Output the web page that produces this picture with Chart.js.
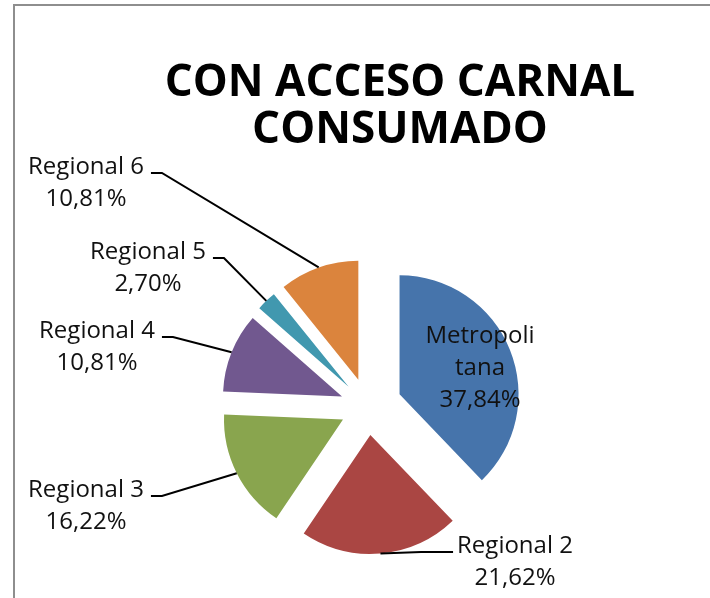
<!DOCTYPE html>
<html>
<head>
<meta charset="utf-8">
<script src="https://cdn.jsdelivr.net/npm/chart.js@4/dist/chart.umd.min.js"></script>
<style>
  html, body { margin: 0; padding: 0; background: #fff; overflow: hidden; }
  #frame {
    position: absolute; left: 13px; top: 4px; width: 900px; height: 800px;
    border-left: 2px solid #8e8e8e; border-top: 2px solid #8e8e8e;
  }
  #chart { position: absolute; left: 0; top: 0; }
</style>
</head>
<body>
<div id="frame"></div>
<canvas id="chart" width="710" height="598"></canvas>
<script>
// data (counts giving the shown percentages)
const categories = ["Metropolitana", "Regional 2", "Regional 3", "Regional 4", "Regional 5", "Regional 6"];
const values = [14, 8, 6, 4, 1, 4];
const colors = ["#4674ab", "#aa4643", "#89a54e", "#71588f", "#4198af", "#db843d"];

// label text lines (name as it wraps in the picture)
const labelNames = [["Metropoli", "tana"], ["Regional 2"], ["Regional 3"], ["Regional 4"], ["Regional 5"], ["Regional 6"]];

const FONT = "'Open Sans', 'DejaVu Sans', sans-serif";

// move the pie so it sits where it does in the picture
const pieCenter = {
  id: "pieCenter",
  afterLayout(chart, args, opts) {
    const a = chart.chartArea;
    a.left = opts.x - 250; a.right = opts.x + 250;
    a.top = opts.y - 200; a.bottom = opts.y + 200;
    a.width = 500; a.height = 400;
  }
};

// pull each slice out along its middle angle
const explode = {
  id: "explode",
  afterUpdate(chart, args, opts) {
    chart.getDatasetMeta(0).data.forEach(function (arc, i) {
      if (arc._exploded) return;
      const draw = arc.draw;
      arc.draw = function (ctx) {
        const d = opts.distance[i] || 0;
        const mid = (this.startAngle + this.endAngle) / 2;
        ctx.save();
        ctx.translate(Math.cos(mid) * d, Math.sin(mid) * d);
        draw.call(this, ctx);
        ctx.restore();
      };
      arc._exploded = true;
    });
  }
};

// data labels with leader lines
const sliceLabels = {
  id: "sliceLabels",
  afterDatasetsDraw(chart, args, opts) {
    const ctx = chart.ctx;
    const meta = chart.getDatasetMeta(0);
    const total = values.reduce((s, v) => s + v, 0);
    ctx.save();
    ctx.font = opts.size + "px " + FONT;
    ctx.fillStyle = "#111";
    ctx.strokeStyle = "#000";
    ctx.lineWidth = 2;
    ctx.textAlign = "center";
    ctx.textBaseline = "middle";
    meta.data.forEach(function (arc, i) {
      const box = opts.boxes[i];
      const pct = (values[i] / total * 100).toFixed(2).replace(".", ",") + "%";
      const lines = labelNames[i].concat([pct]);
      lines.forEach(function (t, k) {
        ctx.fillText(t, box.x, box.y + k * opts.lineHeight);
      });
      if (!box.side) return;
      const d = opts.distance[i] || 0;
      const mid = (arc.startAngle + arc.endAngle) / 2;
      const ex = arc.x + Math.cos(mid) * (d + arc.outerRadius);
      const ey = arc.y + Math.sin(mid) * (d + arc.outerRadius);
      const w = ctx.measureText(lines[0]).width;
      let sx, kx;
      if (box.side === "left") {
        sx = box.x + w / 2 + 7; kx = sx + 11;
      } else {
        sx = box.x - w / 2 - 4; kx = sx - 32;
      }
      const sy = box.y + 6;
      ctx.beginPath();
      ctx.moveTo(sx, sy);
      ctx.lineTo(kx, sy);
      ctx.lineTo(ex, ey);
      ctx.stroke();
    });
    ctx.restore();
  }
};

const explodeDistance = [34, 28, 28, 28, 28, 29];

new Chart(document.getElementById("chart"), {
  type: "pie",
  data: {
    labels: categories,
    datasets: [{ data: values, backgroundColor: colors, borderWidth: 0 }]
  },
  options: {
    responsive: false,
    animation: false,
    radius: 119,
    layout: { padding: { left: 90 } },
    plugins: {
      legend: { display: false },
      tooltip: { enabled: false },
      title: {
        display: true,
        text: ["CON ACCESO CARNAL", "CONSUMADO"],
        color: "#000",
        font: { family: FONT, size: 44, weight: "bold", lineHeight: 1.07 },
        padding: { top: 60, bottom: 0 }
      },
      pieCenter: { x: 368, y: 407 },
      explode: { distance: explodeDistance },
      sliceLabels: {
        size: 24,
        lineHeight: 32,
        distance: explodeDistance,
        boxes: [
          { x: 480, y: 336 },
          { x: 515, y: 546, side: "right" },
          { x: 86, y: 490, side: "left" },
          { x: 97, y: 331, side: "left" },
          { x: 148, y: 252, side: "left" },
          { x: 86, y: 167, side: "left" }
        ]
      }
    }
  },
  plugins: [pieCenter, explode, sliceLabels]
});
</script>
</body>
</html>
